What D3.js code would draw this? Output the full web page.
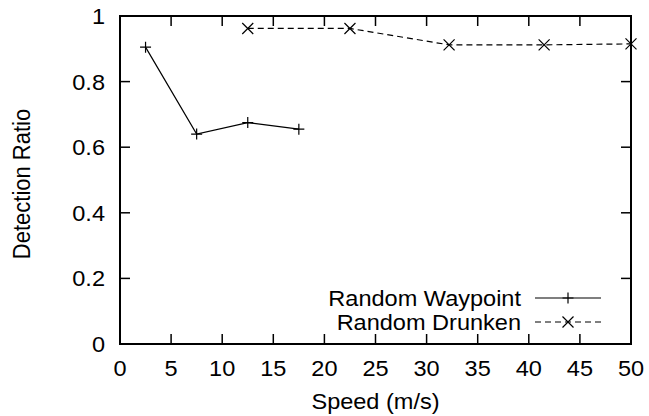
<!DOCTYPE html>
<html>
<head>
<meta charset="utf-8">
<script src="https://cdn.jsdelivr.net/npm/d3@7"></script>
<style>
  html, body { margin: 0; padding: 0; background: #fff; }
  svg { display: block; }
  text { font-family: "Liberation Sans", Arial, Helvetica, sans-serif; fill: #000; }
</style>
</head>
<body>
<svg id="chart" width="649" height="416"></svg>
<script>
// Detection ratio versus node speed for two mobility models
const waypointSpeed = [2.5, 7.5, 12.5, 17.5];
const waypointRatio = [0.905, 0.64, 0.675, 0.655];
const drunkenSpeed = [12.5, 22.5, 32.2, 41.5, 50];
const drunkenRatio = [0.962, 0.962, 0.912, 0.912, 0.915];
const xTicks = [0, 5, 10, 15, 20, 25, 30, 35, 40, 45, 50];
const yTicks = [0, 0.2, 0.4, 0.6, 0.8, 1];
const seriesNames = ["Random Waypoint", "Random Drunken"];

const svg = d3.select("#chart");
const plotL = 120, plotR = 631, plotT = 16, plotB = 344;
const fontSize = 22;
const stretch = 1.07; // glyphs are slightly wider than plain Helvetica

const x = d3.scaleLinear().domain([0, 50]).range([plotL, plotR]);
const y = d3.scaleLinear().domain([0, 1]).range([plotB, plotT]);

const tickLen = 10;

// Place a text item with a small horizontal widening
function label(g, tx, ty, str, anchor, rot) {
  return g.append("text")
    .attr("transform", `translate(${tx},${ty}) scale(${stretch},1)` + (rot ? ` rotate(${rot})` : ""))
    .attr("text-anchor", anchor).attr("font-size", fontSize)
    .text(str);
}

// Ticks on all four sides, pointing inward
const axisG = svg.append("g").attr("stroke", "#000").attr("stroke-width", 1.5);
xTicks.forEach(t => {
  if (t === 0 || t === 50) return;
  axisG.append("line").attr("x1", x(t)).attr("x2", x(t)).attr("y1", plotB).attr("y2", plotB - tickLen);
  axisG.append("line").attr("x1", x(t)).attr("x2", x(t)).attr("y1", plotT).attr("y2", plotT + tickLen);
});
yTicks.forEach(t => {
  if (t === 0 || t === 1) return;
  axisG.append("line").attr("x1", plotL).attr("x2", plotL + tickLen).attr("y1", y(t)).attr("y2", y(t));
  axisG.append("line").attr("x1", plotR).attr("x2", plotR - tickLen).attr("y1", y(t)).attr("y2", y(t));
});

// Frame
svg.append("rect")
  .attr("x", plotL).attr("y", plotT)
  .attr("width", plotR - plotL).attr("height", plotB - plotT)
  .attr("fill", "none").attr("stroke", "#000").attr("stroke-width", 2);

// Tick labels
const xLab = svg.append("g");
xTicks.forEach(t => label(xLab, x(t), plotB + 32, d3.format("d")(t), "middle"));

const yLab = svg.append("g");
yTicks.forEach(t => label(yLab, plotL - 15, y(t) + 8, t === 0 || t === 1 ? String(t) : d3.format(".1f")(t), "end"));

// Axis titles
label(svg, (plotL + plotR) / 2, 409, "Speed (m/s)", "middle");
label(svg, 30, 184, "Detection Ratio", "middle", -90);

// Marker shapes
const ms = 5.5;
function plus(g, cx, cy) {
  g.append("path").attr("d", `M${cx - ms},${cy}H${cx + ms}M${cx},${cy - ms}V${cy + ms}`)
    .attr("stroke", "#000").attr("stroke-width", 1.2).attr("fill", "none");
}
function cross(g, cx, cy) {
  g.append("path").attr("d", `M${cx - ms},${cy - ms}L${cx + ms},${cy + ms}M${cx - ms},${cy + ms}L${cx + ms},${cy - ms}`)
    .attr("stroke", "#000").attr("stroke-width", 1.2).attr("fill", "none");
}

const line = d3.line().x(d => x(d[0])).y(d => y(d[1]));
const wp = waypointSpeed.map((s, i) => [s, waypointRatio[i]]);
const dr = drunkenSpeed.map((s, i) => [s, drunkenRatio[i]]);

const dataG = svg.append("g");
dataG.append("path").datum(wp).attr("d", line)
  .attr("fill", "none").attr("stroke", "#000").attr("stroke-width", 1.2);
dataG.append("path").datum(dr).attr("d", line)
  .attr("fill", "none").attr("stroke", "#000").attr("stroke-width", 1.2)
  .attr("stroke-dasharray", "6,4");
wp.forEach(d => plus(dataG, x(d[0]), y(d[1])));
dr.forEach(d => cross(dataG, x(d[0]), y(d[1])));

// Key
const keyG = svg.append("g");
const keyRows = [298, 322];
const keyTextX = 521, keyL1 = 535, keyL2 = 601;
seriesNames.forEach((name, i) => {
  const cy = keyRows[i];
  label(keyG, keyTextX, cy + 8, name, "end");
  keyG.append("line").attr("x1", keyL1).attr("x2", keyL2).attr("y1", cy).attr("y2", cy)
    .attr("stroke", "#000").attr("stroke-width", 1.2)
    .attr("stroke-dasharray", i === 1 ? "6,4" : null);
  if (i === 0) plus(keyG, (keyL1 + keyL2) / 2, cy);
  else cross(keyG, (keyL1 + keyL2) / 2, cy);
});
</script>
</body>
</html>
